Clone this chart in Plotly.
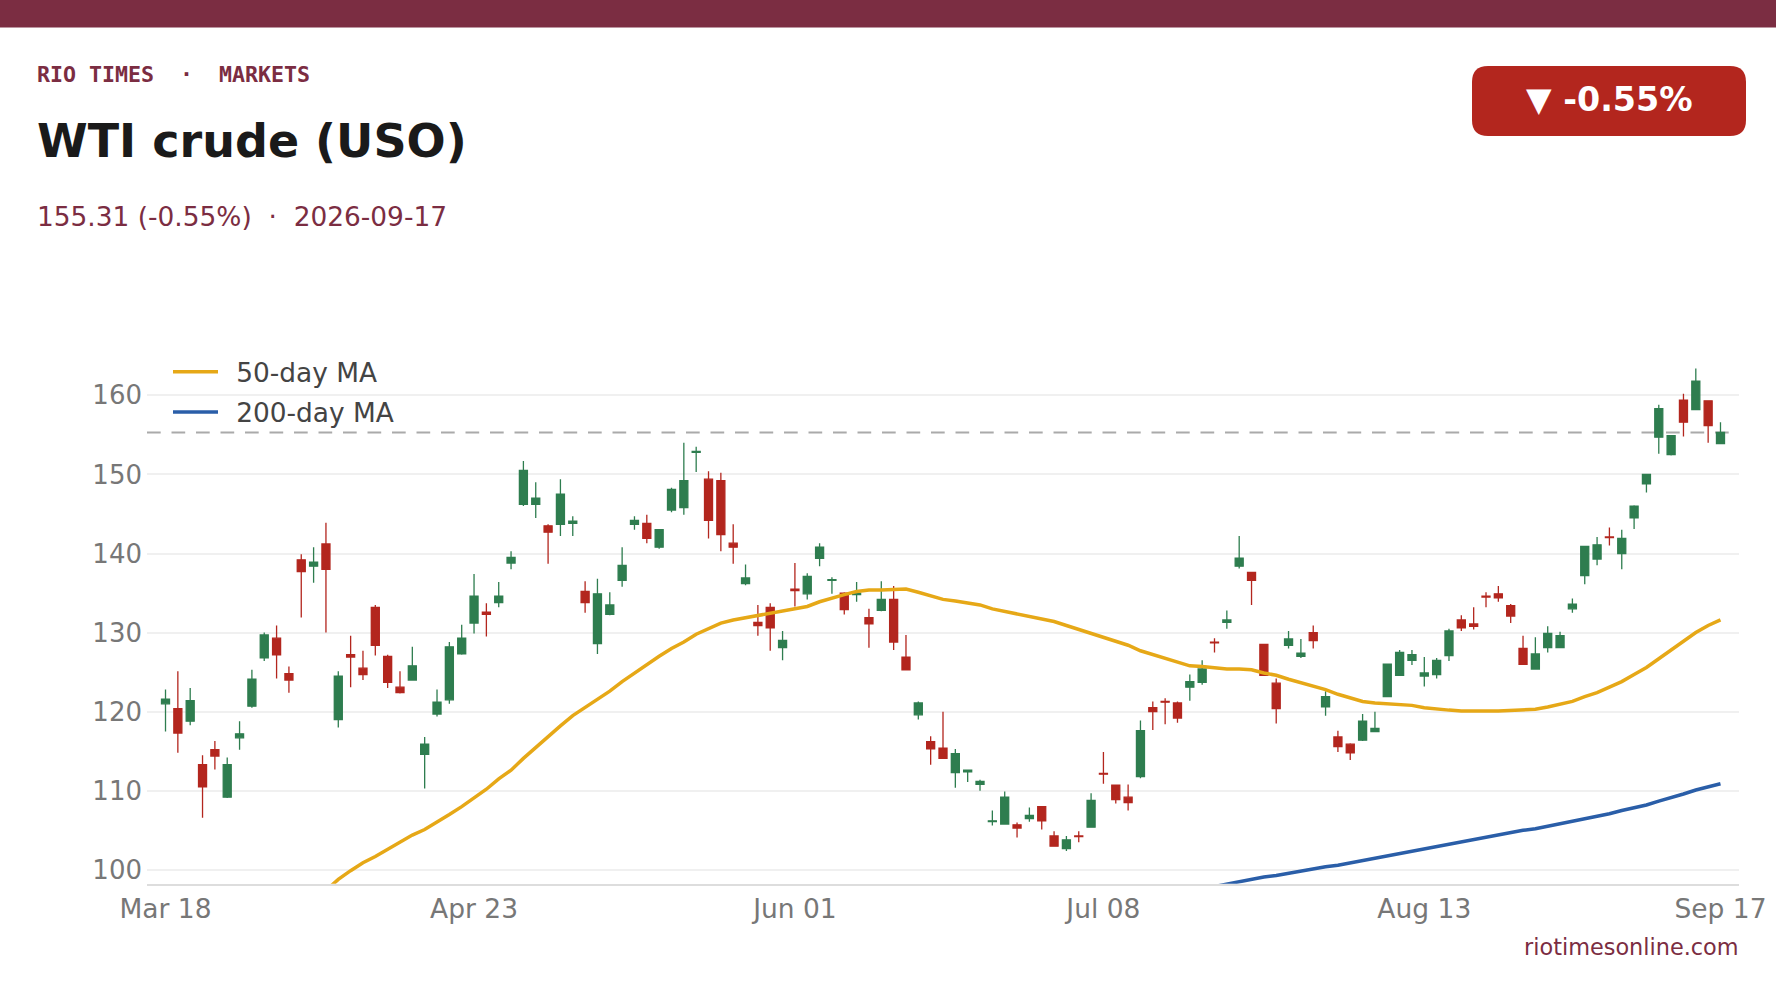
import pandas as pd
import plotly.graph_objects as go

W, H = 1776, 999
HOLIDAYS = ["2026-04-03", "2026-05-25", "2026-06-19", "2026-07-03", "2026-09-07"]
dates = [d.strftime("%Y-%m-%d") for d in pd.bdate_range("2026-03-18", "2026-09-17")
         if d.strftime("%Y-%m-%d") not in HOLIDAYS]

opens = [121.0,120.4,118.8,113.3,115.2,109.2,116.7,120.7,126.8,129.3,124.8,139.2,138.4,141.2,119.0,127.2,
 125.5,133.2,127.0,123.1,124.0,114.6,119.7,121.5,127.3,131.2,132.6,133.8,138.8,146.2,146.2,143.5,
 143.7,143.8,135.2,128.6,132.3,136.6,143.7,143.8,140.8,145.5,145.8,152.8,149.4,149.2,141.3,136.2,
 131.3,133.2,128.1,135.5,134.9,139.4,136.6,135.0,134.8,131.9,132.8,134.2,126.9,119.6,116.2,115.4,
 112.3,112.4,110.8,106.1,105.8,105.7,106.5,108.0,104.3,102.7,104.3,105.4,112.2,110.7,109.2,111.8,
 120.5,121.3,121.1,123.1,123.7,128.8,131.3,138.4,137.6,128.5,123.6,128.4,127.0,130.0,120.6,116.8,
 115.9,116.4,117.5,121.9,124.6,126.5,124.5,124.7,127.1,131.6,131.1,134.6,134.9,133.4,128.0,125.4,
 128.1,128.1,133.0,137.2,139.3,142.1,140.0,144.5,148.8,154.7,152.5,159.4,158.2,159.3,153.9]
highs = [122.8,125.1,123.0,114.5,116.3,114.2,118.8,125.3,130.0,130.9,125.7,139.9,140.8,143.9,125.1,129.6,
 127.7,133.5,127.2,125.1,128.2,116.8,122.8,128.8,131.0,137.4,133.7,136.4,140.3,151.7,149.0,143.7,
 149.4,144.7,136.5,136.8,135.1,140.8,144.7,144.9,143.0,148.3,154.0,153.5,150.4,150.2,143.7,138.6,
 133.5,133.7,130.2,138.8,137.5,141.3,137.0,135.1,136.4,133.0,136.5,135.9,129.7,121.3,116.9,120.0,
 115.3,112.7,111.4,107.5,109.9,106.0,107.9,108.0,104.9,104.3,104.9,109.7,114.9,110.8,110.8,118.9,
 121.3,121.7,121.3,124.7,126.5,129.3,132.8,142.2,137.7,128.5,124.2,130.2,129.2,130.9,122.6,117.6,
 116.0,119.7,120.0,126.1,127.8,127.8,126.9,126.8,130.5,132.2,133.2,135.1,135.9,133.6,129.6,129.4,
 130.8,130.1,134.3,140.9,142.1,143.3,143.0,146.1,150.0,158.8,154.9,160.2,163.4,159.3,156.6]
lows = [117.5,114.8,118.3,106.6,112.7,109.1,115.2,120.5,126.4,124.2,122.4,131.9,136.3,130.0,118.0,123.1,
 124.0,127.1,123.0,122.3,124.0,110.3,119.4,121.0,127.2,129.9,129.5,133.2,138.0,146.0,144.5,138.7,
 142.2,142.2,132.5,127.3,132.2,135.8,143.0,141.3,140.6,145.2,144.9,150.3,141.9,140.3,138.7,136.0,
 129.6,127.7,126.5,133.3,134.2,138.4,134.9,132.3,133.9,128.1,132.7,127.8,125.3,119.0,113.3,114.1,
 110.4,111.1,110.0,105.6,105.8,104.1,106.1,105.1,103.0,102.4,103.5,105.4,110.9,108.4,107.5,111.6,
 117.7,118.4,118.6,121.4,123.4,127.5,130.5,138.1,133.5,124.5,118.5,128.0,126.8,128.0,119.5,114.9,
 113.9,116.3,117.5,121.9,124.5,125.9,123.2,124.2,126.4,130.2,130.4,133.2,133.9,131.2,126.0,125.4,
 127.5,128.1,132.5,136.1,138.5,141.0,138.0,143.1,147.7,152.6,152.4,154.8,158.2,154.0,153.8]
closes = [121.6,117.3,121.4,110.5,114.4,113.3,117.2,124.1,129.7,127.2,124.0,137.7,138.9,138.0,124.5,126.9,
 124.7,128.4,123.7,122.4,125.8,115.9,121.2,128.2,129.3,134.6,132.3,134.6,139.5,150.5,147.0,142.7,
 147.5,144.1,133.8,134.9,133.5,138.5,144.2,141.9,143.0,148.1,149.2,152.9,144.2,142.4,140.8,136.9,
 130.9,130.6,129.0,135.3,137.1,140.8,136.7,132.9,135.0,131.1,134.2,128.8,125.3,121.1,115.3,114.1,
 114.7,112.6,111.2,106.2,109.2,105.3,106.9,106.2,103.0,103.8,104.2,108.8,112.1,108.9,108.5,117.6,
 120.0,121.2,119.2,123.8,125.4,128.7,131.6,139.4,136.6,124.6,120.4,129.2,127.4,129.0,121.9,115.6,
 114.8,118.8,117.9,126.0,127.5,127.2,124.9,126.5,130.2,130.6,130.8,134.5,134.4,132.1,126.0,127.3,
 129.9,129.6,133.6,140.9,141.1,142.0,141.9,146.0,150.0,158.3,154.9,156.6,161.8,156.17,155.31]

ma50_start = 13
ma50 = [97.4,98.8,99.9,100.9,101.7,102.6,103.5,104.4,105.1,106.0,107.0,108.0,109.1,110.2,111.5,112.6,114.1,115.5,116.8,
 118.2,119.5,120.5,121.6,122.6,123.8,124.9,126.0,127.0,128.0,128.8,129.8,130.5,131.2,131.6,131.9,132.2,132.5,132.7,133.0,
 133.3,133.9,134.4,134.8,135.2,135.4,135.4,135.5,135.5,135.1,134.7,134.2,134.0,133.8,133.5,133.0,132.7,132.4,132.0,131.8,
 131.4,130.9,130.4,129.9,129.5,128.9,128.4,127.7,127.2,126.8,126.2,125.8,125.7,125.5,125.4,125.4,125.3,124.9,124.6,124.1,
 123.7,123.2,122.8,122.2,121.7,121.3,121.1,121.0,121.0,120.8,120.5,120.3,120.2,120.1,120.05,120.1,120.1,120.2,120.2,120.3,
 120.6,120.9,121.3,121.9,122.4,123.1,123.8,124.7,125.6,126.7,127.8,128.9,130.0,130.9,131.6]
ma200_start = 84
ma200 = [97.6,97.9,98.2,98.6,98.9,99.1,99.3,99.6,99.9,100.2,100.4,100.6,100.9,101.2,101.5,101.8,102.0,102.3,102.6,102.9,
 103.2,103.5,103.8,104.1,104.4,104.7,105.0,105.2,105.5,105.8,106.1,106.4,106.8,107.1,107.5,107.8,108.2,108.7,109.1,109.6,
 110.1,110.5,110.9]

last_price = 155.31
y_ticks = [100, 110, 120, 130, 140, 150, 160]
x_tick_dates = ["2026-03-18", "2026-04-23", "2026-06-01", "2026-07-08", "2026-08-13", "2026-09-17"]
x_tick_labels = ["Mar 18", "Apr 23", "Jun 01", "Jul 08", "Aug 13", "Sep 17"]

assert len(dates) == len(opens) == len(highs) == len(lows) == len(closes) == 127
assert ma50_start + len(ma50) == 127 and ma200_start + len(ma200) == 127

MAROON = "#7b2d42"
GREEN = "#2e7d4f"
RED = "#b3261e"
SANS = "DejaVu Sans"

def px(x): return x / W
def py(y): return 1 - y / H

fig = go.Figure()
fig.add_trace(go.Candlestick(
    x=dates, open=opens, high=highs, low=lows, close=closes, showlegend=False,
    whiskerwidth=0,
    increasing=dict(line=dict(color=GREEN, width=1.3), fillcolor=GREEN),
    decreasing=dict(line=dict(color=RED, width=1.3), fillcolor=RED),
))
fig.add_trace(go.Scatter(x=dates[ma50_start:], y=ma50, mode="lines", name="\u200250-day MA", legendgroup="ma50",
                         line=dict(color="#e6a817", width=3.5)))
fig.add_trace(go.Scatter(x=dates[ma200_start:], y=ma200, mode="lines", name="\u2002200-day MA", legendgroup="ma200",
                         line=dict(color="#2a5ea8", width=3.5)))

bx0, bx1, by0, by1, r = 1472, 1746, 66, 136, 16
badge = (f"M{px(bx0+r)},{py(by0)} L{px(bx1-r)},{py(by0)} Q{px(bx1)},{py(by0)} {px(bx1)},{py(by0+r)} "
         f"L{px(bx1)},{py(by1-r)} Q{px(bx1)},{py(by1)} {px(bx1-r)},{py(by1)} L{px(bx0+r)},{py(by1)} "
         f"Q{px(bx0)},{py(by1)} {px(bx0)},{py(by1-r)} L{px(bx0)},{py(by0+r)} Q{px(bx0)},{py(by0)} {px(bx0+r)},{py(by0)} Z")

shapes = [
    dict(type="rect", xref="paper", yref="paper", x0=0, x1=1, y0=py(27.5), y1=1,
         fillcolor=MAROON, line_width=0, layer="above"),
    dict(type="path", xref="paper", yref="paper", path=badge, fillcolor=RED, line_width=0, layer="above"),
    dict(type="line", xref="paper", yref="y", x0=px(147), x1=px(1739), y0=last_price, y1=last_price,
         line=dict(color="#aaaaaa", width=2, dash="13.7px,10.8px"), layer="between"),
]

def note(text, x, y, size, color, anchor="left", weight="normal", family=SANS):
    return dict(text=text, xref="paper", yref="paper", x=px(x), y=py(y), xanchor=anchor, yanchor="middle",
                showarrow=False, font=dict(size=size, color=color, family=family, weight=weight))

annotations = [
    note("RIO TIMES\u00a0\u00a0·\u00a0\u00a0MARKETS", 35, 75, 21.6, MAROON, weight="bold", family="DejaVu Sans Mono"),
    note("WTI crude (USO)", 35, 141, 46, "#1a1a1a", weight="bold"),
    note("155.31 (-0.55%)\u00a0\u00a0·\u00a0\u00a02026-09-17", 35, 216, 26.4, MAROON),
    note("▼ -0.55%", 1609, 100, 33.3, "#ffffff", anchor="center", weight="bold"),
    note("riotimesonline.com", 1741, 947, 22.4, MAROON, anchor="right"),
]

plot_top, plot_bottom = 352, 883.8
px_per_unit = 7.91
y100_px = 869.9
y_range = [100 - (plot_bottom - y100_px) / px_per_unit, 100 + (y100_px - plot_top) / px_per_unit]

fig.update_layout(
    width=W, height=H, autosize=False,
    paper_bgcolor="white", plot_bgcolor="white",
    margin=dict(l=0, r=0, t=0, b=0),
    font=dict(family=SANS),
    shapes=shapes, annotations=annotations,
    hovermode=False,
    boxgap=0.35, boxgroupgap=0,
    legend=dict(x=px(168), y=py(348), xanchor="left", yanchor="top", bgcolor="rgba(0,0,0,0)",
                font=dict(size=26.4, color="#444444", family=SANS), itemwidth=45, tracegroupgap=3,
                traceorder="grouped"),
    xaxis=dict(domain=[px(147), px(1739)], type="category", range=[-1.5, 127.5], automargin=False,
               categoryorder="array", categoryarray=dates,
               tickmode="array", tickvals=x_tick_dates, ticktext=x_tick_labels,
               rangeslider=dict(visible=False), showgrid=False, showline=True, linecolor="#dddddd", linewidth=1.5,
               ticks="", ticklabelstandoff=1, tickangle=0, zeroline=False,
               tickfont=dict(size=26.5, color="#777777", family=SANS)),
    yaxis=dict(domain=[py(plot_bottom), py(plot_top)], range=y_range, automargin=False,
               tickmode="array", tickvals=y_ticks, showgrid=True, gridcolor="#f0f0f0", gridwidth=1.5,
               showline=False, ticks="", zeroline=False, ticklabelstandoff=4,
               tickfont=dict(size=26, color="#777777", family=SANS)),
)

fig.write_html("out.html", config=dict(displayModeBar=False),
               post_script="document.body.style.margin='0';document.documentElement.style.overflow='hidden';")
